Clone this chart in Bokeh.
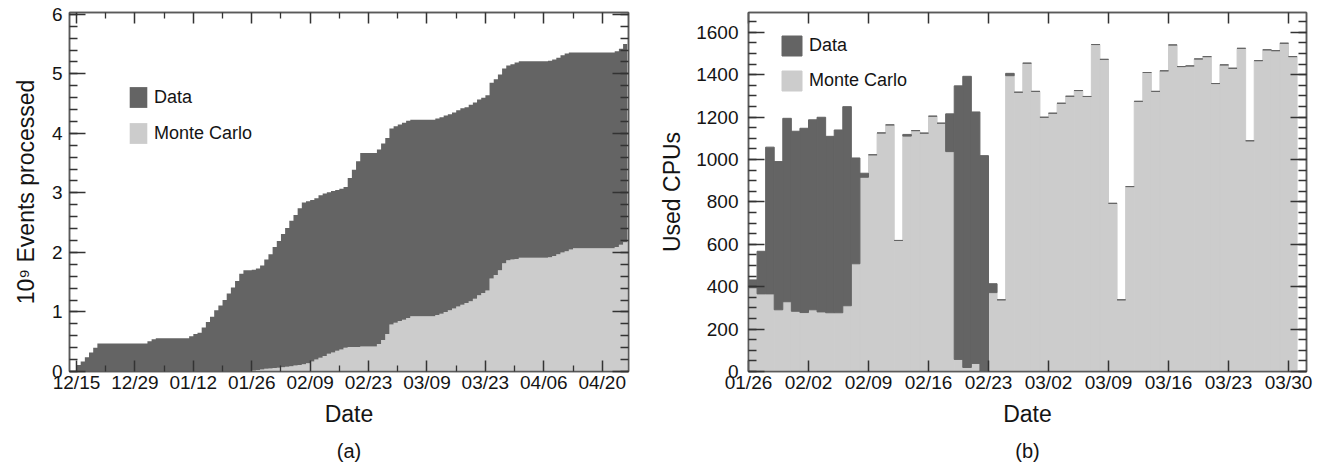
from datetime import datetime, timedelta

from bokeh.plotting import figure
from bokeh.layouts import row
from bokeh.models import (ColumnDataSource, FixedTicker, DatetimeTickFormatter, DatetimeAxis,
                          LinearAxis, SingleIntervalTicker, Range1d, Legend, LegendItem, Title,
                          CustomJSTickFormatter)
from bokeh.embed import file_html
from bokeh.resources import INLINE

# ---------------- data : panel (a) cumulative events, 10^9, one value per day from 2004-12-15
a_start = "2004-12-15"
events_total = [
    0.11, 0.17, 0.24, 0.32, 0.40, 0.47, 0.47, 0.47, 0.47, 0.47,
    0.47, 0.47, 0.47, 0.47, 0.47, 0.47, 0.47, 0.51, 0.54, 0.56,
    0.56, 0.56, 0.56, 0.56, 0.56, 0.56, 0.56, 0.59, 0.63, 0.65,
    0.74, 0.83, 0.92, 1.03, 1.11, 1.20, 1.31, 1.41, 1.52, 1.64,
    1.70, 1.70, 1.71, 1.73, 1.78, 1.88, 1.97, 2.09, 2.19, 2.31,
    2.41, 2.53, 2.63, 2.74, 2.84, 2.86, 2.88, 2.91, 2.96, 2.99,
    3.01, 3.03, 3.05, 3.07, 3.10, 3.25, 3.39, 3.53, 3.67, 3.67,
    3.67, 3.67, 3.73, 3.83, 3.92, 4.08, 4.12, 4.15, 4.18, 4.21,
    4.23, 4.23, 4.23, 4.23, 4.23, 4.23, 4.25, 4.27, 4.30, 4.32,
    4.35, 4.39, 4.42, 4.44, 4.48, 4.52, 4.57, 4.60, 4.64, 4.85,
    4.91, 4.99, 5.09, 5.14, 5.16, 5.19, 5.21, 5.21, 5.21, 5.21,
    5.21, 5.21, 5.21, 5.22, 5.24, 5.27, 5.31, 5.34, 5.36, 5.36,
    5.36, 5.36, 5.36, 5.36, 5.36, 5.36, 5.36, 5.36, 5.36, 5.38,
    5.42, 5.50, 5.50,
]
events_mc = [
    0.0, 0.0, 0.0, 0.0, 0.0, 0.0, 0.0, 0.0, 0.0, 0.0,
    0.0, 0.0, 0.0, 0.0, 0.0, 0.0, 0.0, 0.0, 0.0, 0.0,
    0.0, 0.0, 0.0, 0.0, 0.0, 0.0, 0.0, 0.0, 0.0, 0.0,
    0.0, 0.0, 0.0, 0.0, 0.0, 0.0, 0.0, 0.0, 0.0, 0.0,
    0.0, 0.0, 0.015, 0.025, 0.035, 0.045, 0.05, 0.06, 0.065, 0.07,
    0.08, 0.09, 0.10, 0.11, 0.12, 0.14, 0.17, 0.20, 0.23, 0.26,
    0.30, 0.32, 0.35, 0.37, 0.40, 0.41, 0.41, 0.41, 0.42, 0.42,
    0.42, 0.42, 0.46, 0.53, 0.63, 0.79, 0.82, 0.85, 0.87, 0.90,
    0.93, 0.93, 0.93, 0.93, 0.93, 0.93, 0.95, 0.97, 1.00, 1.03,
    1.06, 1.09, 1.12, 1.15, 1.18, 1.22, 1.28, 1.32, 1.36, 1.56,
    1.62, 1.70, 1.82, 1.87, 1.88, 1.89, 1.91, 1.91, 1.91, 1.91,
    1.91, 1.91, 1.91, 1.92, 1.94, 1.97, 2.00, 2.02, 2.05, 2.07,
    2.07, 2.07, 2.07, 2.07, 2.07, 2.07, 2.07, 2.07, 2.07, 2.09,
    2.13, 2.17, 2.17,
]
a_tick_dates = ["2004-12-15", "2004-12-29", "2005-01-12", "2005-01-26", "2005-02-09",
                "2005-02-23", "2005-03-09", "2005-03-23", "2005-04-06", "2005-04-20"]

# ---------------- data : panel (b) used CPUs per day from 2005-01-26
b_start = "2005-01-26"
cpu_mc = [
    395, 366, 366, 291, 329, 284, 278, 291, 281, 277,
    277, 310, 508, 916, 1022, 1125, 1163, 618, 1110, 1136,
    1124, 1204, 1171, 1037, 57, 19, 38, 0, 372, 338,
    1395, 1317, 1454, 1321, 1199, 1218, 1265, 1298, 1325, 1297,
    1542, 1472, 793, 338, 872, 1274, 1410, 1321, 1418, 1540,
    1438, 1441, 1474, 1485, 1358, 1446, 1430, 1524, 1088, 1466,
    1517, 1513, 1548, 1485,
]
cpu_data = [
    37, 201, 692, 699, 865, 849, 869, 896, 918, 832,
    862, 939, 499, 19, 0, 0, 0, 0, 8, 0,
    0, 0, 0, 178, 1290, 1373, 1186, 1018, 42, 0,
    11, 0, 0, 0, 0, 0, 0, 0, 0, 0,
    0, 0, 0, 0, 0, 0, 0, 0, 0, 0,
    0, 0, 0, 0, 0, 0, 0, 0, 0, 0,
    0, 0, 0, 0,
]
b_tick_dates = ["2005-01-26", "2005-02-02", "2005-02-09", "2005-02-16", "2005-02-23",
                "2005-03-02", "2005-03-09", "2005-03-16", "2005-03-23", "2005-03-30"]

# ---------------- styling
DARK = "#646464"
LIGHT = "#cccccc"
FONT = "Liberation Sans"
AXIS_C = "#5a5a5a"
TICK_C = "#333333"
TEXT_C = "#141414"
DAY = 86400000.0
EPOCH = datetime(1970, 1, 1)
FRAME_H = 359


def ms(d):
    return (d - EPOCH).total_seconds() * 1000.0


def parse(s):
    return datetime.strptime(s, "%Y-%m-%d")


def date_fmt():
    f = DatetimeTickFormatter(days="%m/%d", months="%m/%d", years="%m/%d", hours="%m/%d",
                              hourmin="%m/%d", minutes="%m/%d", minsec="%m/%d", seconds="%m/%d",
                              milliseconds="%m/%d", microseconds="%m/%d")
    if "strip_leading_zeros" in f.properties():
        f.strip_leading_zeros = False
    return f


def style(ax, major_in, minor_in, labels=True):
    ax.major_tick_in = major_in
    ax.major_tick_out = 0
    ax.minor_tick_in = minor_in
    ax.minor_tick_out = 0
    ax.axis_line_color = AXIS_C
    ax.axis_line_width = 1.5
    ax.major_tick_line_color = TICK_C
    ax.major_tick_line_width = 1.5
    ax.minor_tick_line_color = TICK_C
    ax.minor_tick_line_width = 1.3
    if labels:
        ax.major_label_text_font = FONT
        ax.major_label_text_font_size = "19px"
        ax.major_label_text_color = TEXT_C
        ax.axis_label_text_font = FONT
        ax.axis_label_text_font_size = "23px"
        ax.axis_label_text_font_style = "normal"
        ax.axis_label_text_color = TEXT_C
    else:
        ax.formatter = CustomJSTickFormatter(code="return ''")
        ax.major_label_text_font_size = "0px"
        ax.major_label_standoff = 0


def make_fig(x0, x1, y1, border_left, border_right, frame_w):
    p = figure(frame_width=frame_w, frame_height=FRAME_H,
               x_axis_type="datetime", output_backend="svg", toolbar_location=None,
               x_range=Range1d(x0, x1), y_range=Range1d(0, y1),
               min_border_left=border_left, min_border_right=border_right,
               min_border_top=12, min_border_bottom=95)
    p.grid.visible = False
    p.outline_line_color = AXIS_C
    p.outline_line_width = 1.5
    p.background_fill_color = "white"
    p.border_fill_color = "white"
    return p


def legend(p, r_data, r_mc, loc, gw, gh):
    lg = Legend(items=[LegendItem(label="Data", renderers=[r_data]),
                       LegendItem(label="Monte Carlo", renderers=[r_mc])],
                location=loc, orientation="vertical", glyph_width=gw, glyph_height=gh,
                spacing=10, padding=0, margin=0, border_line_color=None,
                background_fill_alpha=0, label_text_font=FONT, label_text_font_size="18px",
                label_text_color=TEXT_C, label_standoff=5, label_height=gh)
    p.add_layout(lg)


def caption(p, text):
    t = Title(text=text, align="center", text_font=FONT, text_font_size="20px",
              text_font_style="normal", text_color=TEXT_C, standoff=16)
    p.add_layout(t, "below")


# ================= panel (a)
a0 = parse(a_start)
a_x = [ms(a0 + timedelta(days=i)) for i in range(len(events_total))]
src_a = ColumnDataSource(dict(x=a_x, mc=events_mc, total=events_total,
                              zero=[0.0] * len(events_mc)))
pa = make_fig(ms(a0) - 1.68 * DAY, ms(a0) + 132.3 * DAY, 6.03, 69, 22, 559)
r_mc_a = pa.varea_step(x="x", y1="zero", y2="mc", step_mode="after", source=src_a,
                       fill_color=LIGHT)
r_data_a = pa.varea_step(x="x", y1="mc", y2="total", step_mode="after", source=src_a,
                         fill_color=DARK)

a_ticks = [ms(parse(s)) for s in a_tick_dates]
a_minor = [t + 7 * DAY for t in a_ticks]
xa = pa.xaxis[0]
xa.ticker = FixedTicker(ticks=a_ticks, minor_ticks=a_minor)
xa.formatter = date_fmt()
xa.axis_label = "Date"
style(xa, 11, 6)
xa.major_label_standoff = 0
xa.axis_label_standoff = 5

ya = pa.yaxis[0]
ya.ticker = SingleIntervalTicker(interval=1, num_minor_ticks=5)
ya.axis_label = "10⁹ Events processed"
style(ya, 16, 8)
ya.major_label_standoff = 7
ya.axis_label_standoff = 10

xa_top = DatetimeAxis(ticker=FixedTicker(ticks=a_ticks, minor_ticks=a_minor))
style(xa_top, 11, 6, labels=False)
pa.add_layout(xa_top, "above")
ya_right = LinearAxis(ticker=SingleIntervalTicker(interval=1, num_minor_ticks=5))
style(ya_right, 16, 8, labels=False)
pa.add_layout(ya_right, "right")

legend(pa, r_data_a, r_mc_a, (58, 225), 22, 26)
caption(pa, "(a)")

# ================= panel (b)
b0 = parse(b_start)
b_x = [ms(b0 + timedelta(days=i)) + DAY / 2 for i in range(len(cpu_mc))]
src_b = ColumnDataSource(dict(x=b_x, mc=cpu_mc, data=cpu_data))
pb = make_fig(ms(b0), ms(b0) + 65.1 * DAY, 1693, 98, 14, 558)
rs = pb.vbar_stack(["mc", "data"], x="x", width=DAY, source=src_b,
                   fill_color=[LIGHT, DARK], line_color=[LIGHT, DARK], line_width=1.0)
r_mc_b, r_data_b = rs

b_ticks = [ms(parse(s)) for s in b_tick_dates]
xb = pb.xaxis[0]
xb.ticker = FixedTicker(ticks=b_ticks, minor_ticks=[])
xb.formatter = date_fmt()
xb.axis_label = "Date"
style(xb, 11, 0)
xb.major_label_standoff = 0
xb.axis_label_standoff = 5

yb = pb.yaxis[0]
yb.ticker = SingleIntervalTicker(interval=200, num_minor_ticks=4)
yb.axis_label = "Used CPUs"
style(yb, 16, 8)
yb.major_label_standoff = 10
yb.axis_label_standoff = 8

xb_top = DatetimeAxis(ticker=FixedTicker(ticks=b_ticks, minor_ticks=[]))
style(xb_top, 11, 0, labels=False)
pb.add_layout(xb_top, "above")
yb_right = LinearAxis(ticker=SingleIntervalTicker(interval=200, num_minor_ticks=4))
style(yb_right, 16, 8, labels=False)
pb.add_layout(yb_right, "right")

legend(pb, r_data_b, r_mc_b, (31, 278), 25, 25)
caption(pb, "(b)")

layout = row(pa, pb)
open("out.html", "w").write(file_html(layout, INLINE))
